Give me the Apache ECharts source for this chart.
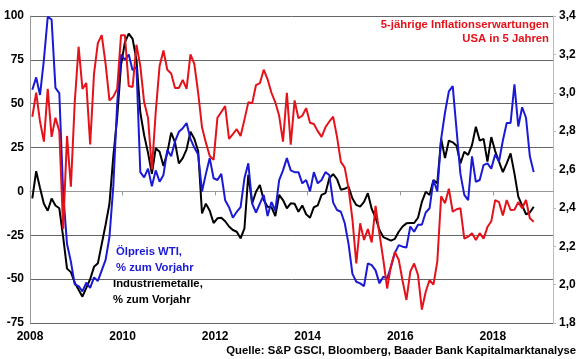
<!DOCTYPE html>
<html><head><meta charset="utf-8">
<script src="https://cdn.jsdelivr.net/npm/echarts@6/dist/echarts.min.js"></script>
<style>html,body{margin:0;padding:0;background:#fff}#c{width:580px;height:359px}</style>
</head><body><div id="c"></div>
<script>
const startYear = 2008;
const xTickYears = [2008, 2010, 2012, 2014, 2016, 2018];

// Ölpreis WTI, % zum Vorjahr (monthly, left axis)
const oilWTI = [58,65,55,75,99.5,98,59,56,-1,-30,-40,-53,-54,-57,-52,-55,-49,-51,-45,-39,
  -26,3,50,78,75,78,69,71,11,8,13,3,12,5.5,9.4,23.6,20,28.5,34,36,
  39,30,25,21,0,10,19,7.5,6.5,10,-5,-9,-15,-11.6,-9,7.5,16,-7,-12,-7,
  -2,-14,-6,-11,6.5,12,19,12,11,11,4.6,6.5,0,11,4.6,6.5,11,9.4,-6.4,-10.6,
  -11.6,-18,-30,-47,-51.5,-52.4,-54,-41,-42,-45,-52.4,-48.6,-49.5,-43,-35,-30.6,-31.5,-32,-20,-23,
  -19,-19,-12,-9.6,6.5,0,30,45,57,60,35,10,-2,-5,20,5.5,6.5,15,16,13,
  21,17,29,39,39,61,37,48,42,20,11];

// Industriemetalle, % zum Vorjahr (monthly, left axis)
const metals = [-4,11.5,2,-7,-11,-4,-8,-9.6,-26,-44,-46,-52,-56,-60,-55,-50,-43,-41,-30,-19,
  -7,20,42,72,85,90,87,75,45,32,22,10,24.6,22.6,14.5,22,33.5,28,16,19,
  24,34,30,23,-12.5,-7,-11,-18,-15.3,-15,-17,-20,-22,-23,-26.7,-21,9.4,-6.8,-0.2,3.6,
  -4.9,-8.7,-9,-14,-2,-4.9,-9.6,-6.8,-7,-11.6,-8,-13,-15,-9,-8,-2,-1,7.5,9.9,7,
  1,1.5,2.7,-4,-7.7,-8.7,-6,-1,-10,-15,-22,-26,-27,-28,-27,-23,-20,-18.2,-18,-18,
  -15,-6,-0.2,-2,6.5,4.6,30,19,29,28,26,16,22.6,20.8,26.4,36.9,29,30,17,31,
  23,17,11,16,21.7,10.3,-3,-8,-13,-12,-8.7];

// 5-jährige Inflationserwartungen USA in 5 Jahren (monthly, right axis)
const inflExp = [2.875,3.00,2.85,2.745,3.02,2.77,2.87,2.80,2.29,2.775,2.51,2.95,3.24,3.02,3.05,2.73,3.10,3.26,3.30,3.15,
  2.96,2.98,3.02,3.30,3.30,3.035,3.03,3.25,3.14,2.95,2.87,2.60,2.90,3.14,3.22,3.12,3.10,3.025,3.025,3.067,
  3.02,3.20,3.15,3.00,2.82,2.74,2.67,2.65,2.87,2.90,2.93,2.76,2.785,2.81,2.775,2.86,2.95,2.945,3.04,3.05,
  3.12,3.07,3.00,2.95,2.88,2.745,3.00,2.73,2.96,2.867,2.88,2.92,2.844,2.837,2.80,2.77,2.82,2.85,2.875,2.77,
  2.64,2.61,2.50,2.34,2.11,2.32,2.233,2.29,2.22,2.41,2.264,2.13,1.98,2.10,2.17,2.13,2.02,1.92,2.068,2.11,
  2.05,1.87,1.963,2.024,2.00,2.12,2.46,2.424,2.50,2.38,2.393,2.398,2.24,2.25,2.268,2.233,2.268,2.24,2.30,2.33,
  2.44,2.43,2.36,2.441,2.389,2.39,2.43,2.398,2.441,2.346,2.328];

const toPairs = arr => arr.map((v, i) => [startYear + (i + 0.6) / 12, v]);

const FONT = '"Liberation Sans", Arial, sans-serif';
const TXT = 'bold 11.3px ' + FONT;
const chart = echarts.init(document.getElementById('c'), null, {renderer: 'canvas'});
chart.setOption({
  animation: false,
  backgroundColor: '#fff',
  grid: {left: 30, right: 27, top: 16, bottom: 36, containLabel: false},
  xAxis: {
    type: 'value', min: 2008, max: 2019.3, interval: 2,
    axisLine: {show: true, lineStyle: {color: '#999', width: 1}},
    axisTick: {show: true, length: 4, inside: false, lineStyle: {color: '#999'}, customValues: xTickYears},
    axisLabel: {show: true, color: '#000', fontFamily: FONT, fontWeight: 'bold', fontSize: 12, margin: 8,
      customValues: xTickYears,
      formatter: v => (xTickYears.indexOf(v) >= 0 ? String(v) : '')},
    splitLine: {show: false}
  },
  yAxis: [
    {
      type: 'value', min: -75, max: 100, interval: 25, position: 'left',
      axisLine: {show: true, lineStyle: {color: '#999', width: 1}},
      axisTick: {show: false},
      axisLabel: {color: '#000', fontFamily: FONT, fontWeight: 'bold', fontSize: 12, margin: 6},
      splitLine: {show: true, lineStyle: {color: '#666', width: 1}}
    },
    {
      type: 'value', min: 1.8, max: 3.4, interval: 0.2, position: 'right',
      axisLine: {show: true, lineStyle: {color: '#bbb', width: 1}},
      axisTick: {show: true, length: 3, inside: false, lineStyle: {color: '#bbb'}},
      axisLabel: {color: '#000', fontFamily: FONT, fontWeight: 'bold', fontSize: 12, margin: 6,
        formatter: v => v.toFixed(1).replace('.', ',')},
      splitLine: {show: false}
    }
  ],
  series: [
    {name: 'Industriemetalle', type: 'line', yAxisIndex: 0, data: toPairs(metals), showSymbol: false,
      lineStyle: {color: '#000', width: 2}, z: 2},
    {name: 'Ölpreis WTI', type: 'line', yAxisIndex: 0, data: toPairs(oilWTI), showSymbol: false,
      lineStyle: {color: '#1a1ad6', width: 2}, z: 3},
    {name: 'Inflationserwartungen', type: 'line', yAxisIndex: 1, data: toPairs(inflExp), showSymbol: false,
      lineStyle: {color: '#e5121a', width: 2}, z: 4}
  ],
  graphic: [
    {type: 'text', style: {text: '5-jährige Inflationserwartungen', x: 549, y: 25, align: 'right', verticalAlign: 'middle',
      fill: '#e5121a', font: TXT}},
    {type: 'text', style: {text: 'USA in 5 Jahren', x: 549, y: 39, align: 'right', verticalAlign: 'middle',
      fill: '#e5121a', font: TXT}},
    {type: 'text', style: {text: 'Ölpreis WTI,', x: 116, y: 252, align: 'left', verticalAlign: 'middle',
      fill: '#1a1ad6', font: TXT}},
    {type: 'text', style: {text: '% zum Vorjahr', x: 116, y: 268, align: 'left', verticalAlign: 'middle',
      fill: '#1a1ad6', font: TXT}},
    {type: 'text', style: {text: 'Industriemetalle,', x: 113, y: 284, align: 'left', verticalAlign: 'middle',
      fill: '#000', font: TXT}},
    {type: 'text', style: {text: '% zum Vorjahr', x: 113, y: 300, align: 'left', verticalAlign: 'middle',
      fill: '#000', font: TXT}},
    {type: 'text', style: {text: 'Quelle: S&P GSCI, Bloomberg, Baader Bank Kapitalmarktanalyse', x: 576, y: 351,
      align: 'right', verticalAlign: 'middle', fill: '#000', font: TXT}}
  ]
});
</script></body></html>
